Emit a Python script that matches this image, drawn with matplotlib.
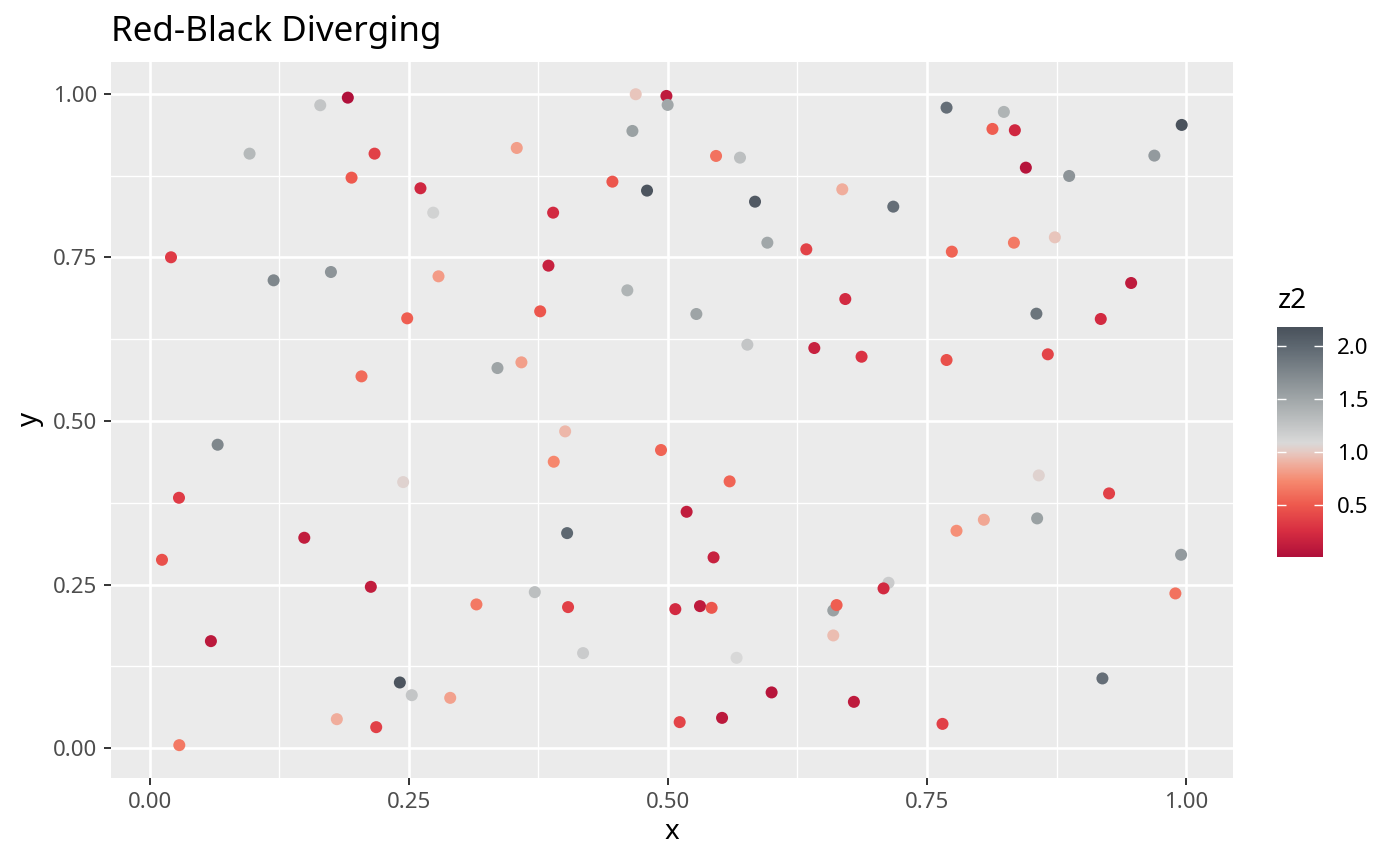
import numpy as np
import matplotlib
matplotlib.use("Agg")
import matplotlib.pyplot as plt
from matplotlib.colors import LinearSegmentedColormap, Normalize
from matplotlib.ticker import MultipleLocator

plt.rcParams['font.family'] = ['Noto Sans', 'DejaVu Sans']

# ---- data ----
x = [0.1912, 0.1646, 0.0964, 0.2170, 0.1948, 0.2613, 0.2736, 0.0206, 0.1196, 0.1749,
     0.2787, 0.2485, 0.2044, 0.4690, 0.4986, 0.4998, 0.4658, 0.3542, 0.5465, 0.5696,
     0.4465, 0.4799, 0.6683, 0.3893, 0.5841, 0.5960, 0.6336, 0.3848, 0.4609, 0.3768,
     0.5275, 0.6712, 0.5767, 0.6413, 0.3356, 0.3587, 0.7689, 0.8242, 0.8132, 0.8348,
     0.9958, 0.9694, 0.8454, 0.8872, 0.7175, 0.7740, 0.8339, 0.8734, 0.9470, 0.8556,
     0.9177, 0.6869, 0.7689, 0.8666, 0.0656, 0.2446, 0.0283, 0.1492, 0.0119, 0.2134,
     0.3153, 0.0591, 0.2414, 0.2529, 0.2900, 0.1806, 0.2186, 0.0286, 0.4009, 0.4934,
     0.3899, 0.5596, 0.5181, 0.4028, 0.5441, 0.3716, 0.4037, 0.5072, 0.5310, 0.5422,
     0.6596, 0.6628, 0.6596, 0.4182, 0.5663, 0.6001, 0.6795, 0.5114, 0.5523, 0.8579,
     0.9257, 0.7785, 0.8049, 0.8563, 0.9952, 0.7129, 0.7081, 0.9897, 0.9193, 0.7650]
y = [0.9943, 0.9827, 0.9087, 0.9087, 0.8720, 0.8558, 0.8185, 0.7503, 0.7151, 0.7278,
     0.7212, 0.6570, 0.5683, 0.9995, 0.9969, 0.9832, 0.9434, 0.9174, 0.9052, 0.9026,
     0.8659, 0.8522, 0.8542, 0.8185, 0.8353, 0.7726, 0.7625, 0.7375, 0.6998, 0.6677,
     0.6636, 0.6865, 0.6167, 0.6116, 0.5810, 0.5897, 0.9790, 0.9725, 0.9465, 0.9445,
     0.9526, 0.9057, 0.8873, 0.8746, 0.8277, 0.7589, 0.7726, 0.7808, 0.7110, 0.6641,
     0.6560, 0.5983, 0.5933, 0.6020, 0.4638, 0.4067, 0.3827, 0.3216, 0.2879, 0.2466,
     0.2197, 0.1636, 0.1004, 0.0810, 0.0769, 0.0443, 0.0321, 0.0046, 0.4842, 0.4557,
     0.4378, 0.4078, 0.3613, 0.3287, 0.2916, 0.2385, 0.2156, 0.2125, 0.2171, 0.2145,
     0.2105, 0.2187, 0.1723, 0.1453, 0.1381, 0.0852, 0.0708, 0.0398, 0.0463, 0.4169,
     0.3894, 0.3323, 0.3491, 0.3512, 0.2956, 0.2528, 0.2442, 0.2365, 0.1066, 0.0371]
z2 = [0.01, 1.25, 1.35, 0.35, 0.50, 0.20, 1.15, 0.33, 1.75, 1.65,
      0.80, 0.52, 0.58, 0.98, 0.10, 1.50, 1.55, 0.82, 0.62, 1.30,
      0.48, 2.15, 0.88, 0.22, 2.12, 1.50, 0.37, 0.15, 1.40, 0.48,
      1.52, 0.22, 1.25, 0.15, 1.52, 0.82, 1.95, 1.40, 0.52, 0.20,
      2.18, 1.60, 0.05, 1.65, 1.95, 0.55, 0.65, 0.98, 0.10, 1.90,
      0.22, 0.28, 0.45, 0.38, 1.75, 1.05, 0.33, 0.12, 0.45, 0.12,
      0.65, 0.08, 2.15, 1.25, 0.83, 0.88, 0.35, 0.65, 0.92, 0.55,
      0.72, 0.55, 0.12, 2.00, 0.15, 1.30, 0.35, 0.22, 0.10, 0.48,
      1.55, 0.52, 0.95, 1.20, 1.10, 0.06, 0.10, 0.38, 0.08, 1.05,
      0.35, 0.75, 0.85, 1.55, 1.60, 1.20, 0.22, 0.62, 1.95, 0.35]

title = "Red-Black Diverging"
x_ticks = [0.00, 0.25, 0.50, 0.75, 1.00]
y_ticks = [0.00, 0.25, 0.50, 0.75, 1.00]
cbar_ticks = [0.5, 1.0, 1.5, 2.0]

# ---- colour scale ----
vmin, vmax = min(z2), max(z2)
stops = [(vmin, "#B0103A"), (0.25, "#D82E42"), (0.5, "#EE5A4E"), (0.72, "#F6886E"),
         (0.9, "#EFB2A2"), (1.0, "#E6CAC3"), (1.09, "#D9D9D9"), (1.5, "#A1A7A9"),
         (2.0, "#5E6871"), (vmax, "#4A525C")]
cmap = LinearSegmentedColormap.from_list(
    "rb", [((v - vmin) / (vmax - vmin), c) for v, c in stops])
norm = Normalize(vmin=vmin, vmax=vmax)

# ---- figure ----
W, H = 1400, 866
fig = plt.figure(figsize=(W / 100, H / 100), dpi=100)
ax = fig.add_axes([111 / W, 1 - 777.7 / H, (1232.7 - 111) / W, (777.7 - 61.7) / H])
ax.set_facecolor("#EBEBEB")
for s in ax.spines.values():
    s.set_visible(False)

ax.scatter(x, y, c=z2, cmap=cmap, norm=norm, s=75, linewidths=0, zorder=3)
ax.margins(0.05)

ax.xaxis.set_minor_locator(MultipleLocator(0.125))
ax.yaxis.set_minor_locator(MultipleLocator(0.125))
ax.set_xticks(x_ticks)
ax.set_yticks(y_ticks)
ax.set_xticklabels([f"{v:.2f}" for v in x_ticks])
ax.set_yticklabels([f"{v:.2f}" for v in y_ticks])
ax.grid(which="major", color="white", linewidth=1.9, zorder=1)
ax.grid(which="minor", color="white", linewidth=0.95, zorder=1)
ax.set_axisbelow(True)
ax.tick_params(which="major", length=5, width=1.4, color="#333333",
               labelsize=16, labelcolor="#4D4D4D", pad=5)
ax.tick_params(which="minor", length=0)

ax.set_xlabel("x", fontsize=20, color="black", labelpad=4)
ax.set_ylabel("y", fontsize=20, color="black", labelpad=6)
ax.set_title(title, loc="left", fontsize=25.2, color="black", pad=15)

# ---- colourbar legend ----
cax = fig.add_axes([1276.7 / W, 1 - 556.7 / H, 46 / W, 230 / H])
grad = np.linspace(vmin, vmax, 300).reshape(-1, 1)
cax.imshow(grad, aspect="auto", cmap=cmap, norm=norm, origin="lower",
           extent=[0, 1, vmin, vmax])
cax.set_xlim(0, 1)
cax.set_ylim(vmin, vmax)
cax.set_xticks([])
cax.set_yticks(cbar_ticks)
cax.set_yticklabels([f"{v:.1f}" for v in cbar_ticks])
cax.yaxis.tick_right()
cax.tick_params(axis="y", direction="in", length=6.5, width=1.0, color="white",
                left=True, right=True, labelleft=False, labelright=True,
                labelsize=16, labelcolor="black", pad=10)
for s in cax.spines.values():
    s.set_visible(False)
fig.text(1277.7 / W, 1 - 308.3 / H, "z2", fontsize=20, va="baseline", ha="left")

fig.savefig("out.png", dpi=100)
